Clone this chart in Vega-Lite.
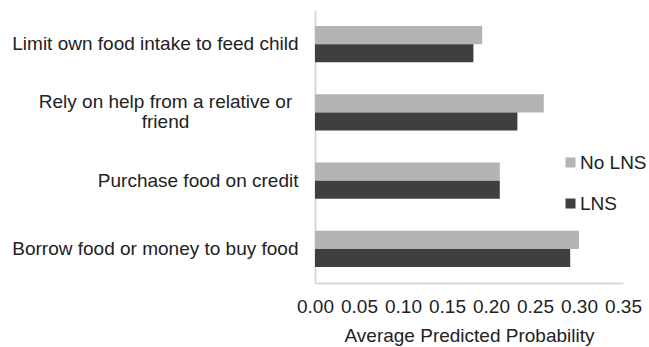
{
  "$schema": "https://vega.github.io/schema/vega-lite/v6.json",
  "width": 308,
  "height": 273,
  "autosize": {"type": "none"},
  "padding": {"left": 315, "top": 10, "right": 26, "bottom": 64},
  "background": "white",
  "data": {
    "values": [
      {"activity": "Limit own food intake to feed child", "group": "No LNS", "prob": 0.19},
      {"activity": "Limit own food intake to feed child", "group": "LNS", "prob": 0.18},
      {"activity": "Rely on help from a relative or friend", "group": "No LNS", "prob": 0.26},
      {"activity": "Rely on help from a relative or friend", "group": "LNS", "prob": 0.23},
      {"activity": "Purchase food on credit", "group": "No LNS", "prob": 0.21},
      {"activity": "Purchase food on credit", "group": "LNS", "prob": 0.21},
      {"activity": "Borrow food or money to buy food", "group": "No LNS", "prob": 0.30},
      {"activity": "Borrow food or money to buy food", "group": "LNS", "prob": 0.29}
    ]
  },
  "mark": {"type": "bar"},
  "encoding": {
    "y": {
      "field": "activity",
      "type": "nominal",
      "sort": null,
      "scale": {"paddingInner": 0.47, "paddingOuter": 0.235},
      "axis": {
        "title": null,
        "ticks": false,
        "domainColor": "#d9d9d9",
        "domainWidth": 2,
        "labelFont": "Liberation Sans",
        "labelFontSize": 19,
        "labelColor": "#222222",
        "labelAlign": {"condition": {"test": "datum.value == 'Rely on help from a relative or friend'", "value": "center"}, "value": "right"},
        "labelPadding": {"condition": {"test": "datum.value == 'Rely on help from a relative or friend'", "value": 150}, "value": 17},
        "labelOffset": {"condition": {"test": "datum.value == 'Rely on help from a relative or friend'", "value": -10}, "value": 0},
        "labelLimit": 400,
        "labelExpr": "datum.value == 'Rely on help from a relative or friend' ? ['Rely on help from a relative or', 'friend'] : datum.value",
        "labelLineHeight": 20
      }
    },
    "yOffset": {
      "field": "group",
      "type": "nominal",
      "sort": ["No LNS", "LNS"],
      "scale": {"paddingInner": 0, "paddingOuter": 0}
    },
    "x": {
      "field": "prob",
      "type": "quantitative",
      "scale": {"domain": [0, 0.35], "nice": false, "zero": true},
      "axis": {
        "title": "Average Predicted Probability",
        "values": [0, 0.05, 0.1, 0.15, 0.2, 0.25, 0.3, 0.35],
        "format": ".2f",
        "grid": false,
        "ticks": false,
        "domainColor": "#d9d9d9",
        "domainWidth": 2,
        "labelFont": "Liberation Sans",
        "labelFontSize": 19,
        "labelColor": "#222222",
        "labelPadding": 14,
        "labelDx": 10,
        "labelFlush": false,
        "labelOverlap": false,
        "titleFont": "Liberation Sans",
        "titleFontSize": 19,
        "titleFontWeight": "normal",
        "titleColor": "#222222",
        "titlePadding": 10
      }
    },
    "color": {
      "field": "group",
      "type": "nominal",
      "sort": ["No LNS", "LNS"],
      "scale": {"domain": ["No LNS", "LNS"], "range": ["#b4b4b4", "#3f3f3f"]},
      "legend": {
        "title": null,
        "orient": "none",
        "legendX": 246,
        "legendY": 143,
        "symbolType": "square",
        "symbolSize": 100,
        "symbolStrokeWidth": 0,
        "labelFont": "Liberation Sans",
        "labelFontSize": 19,
        "labelColor": "#222222",
        "labelOffset": 0,
        "rowPadding": 21,
        "padding": 0
      }
    }
  },
  "config": {
    "view": {"stroke": null}
  }
}
